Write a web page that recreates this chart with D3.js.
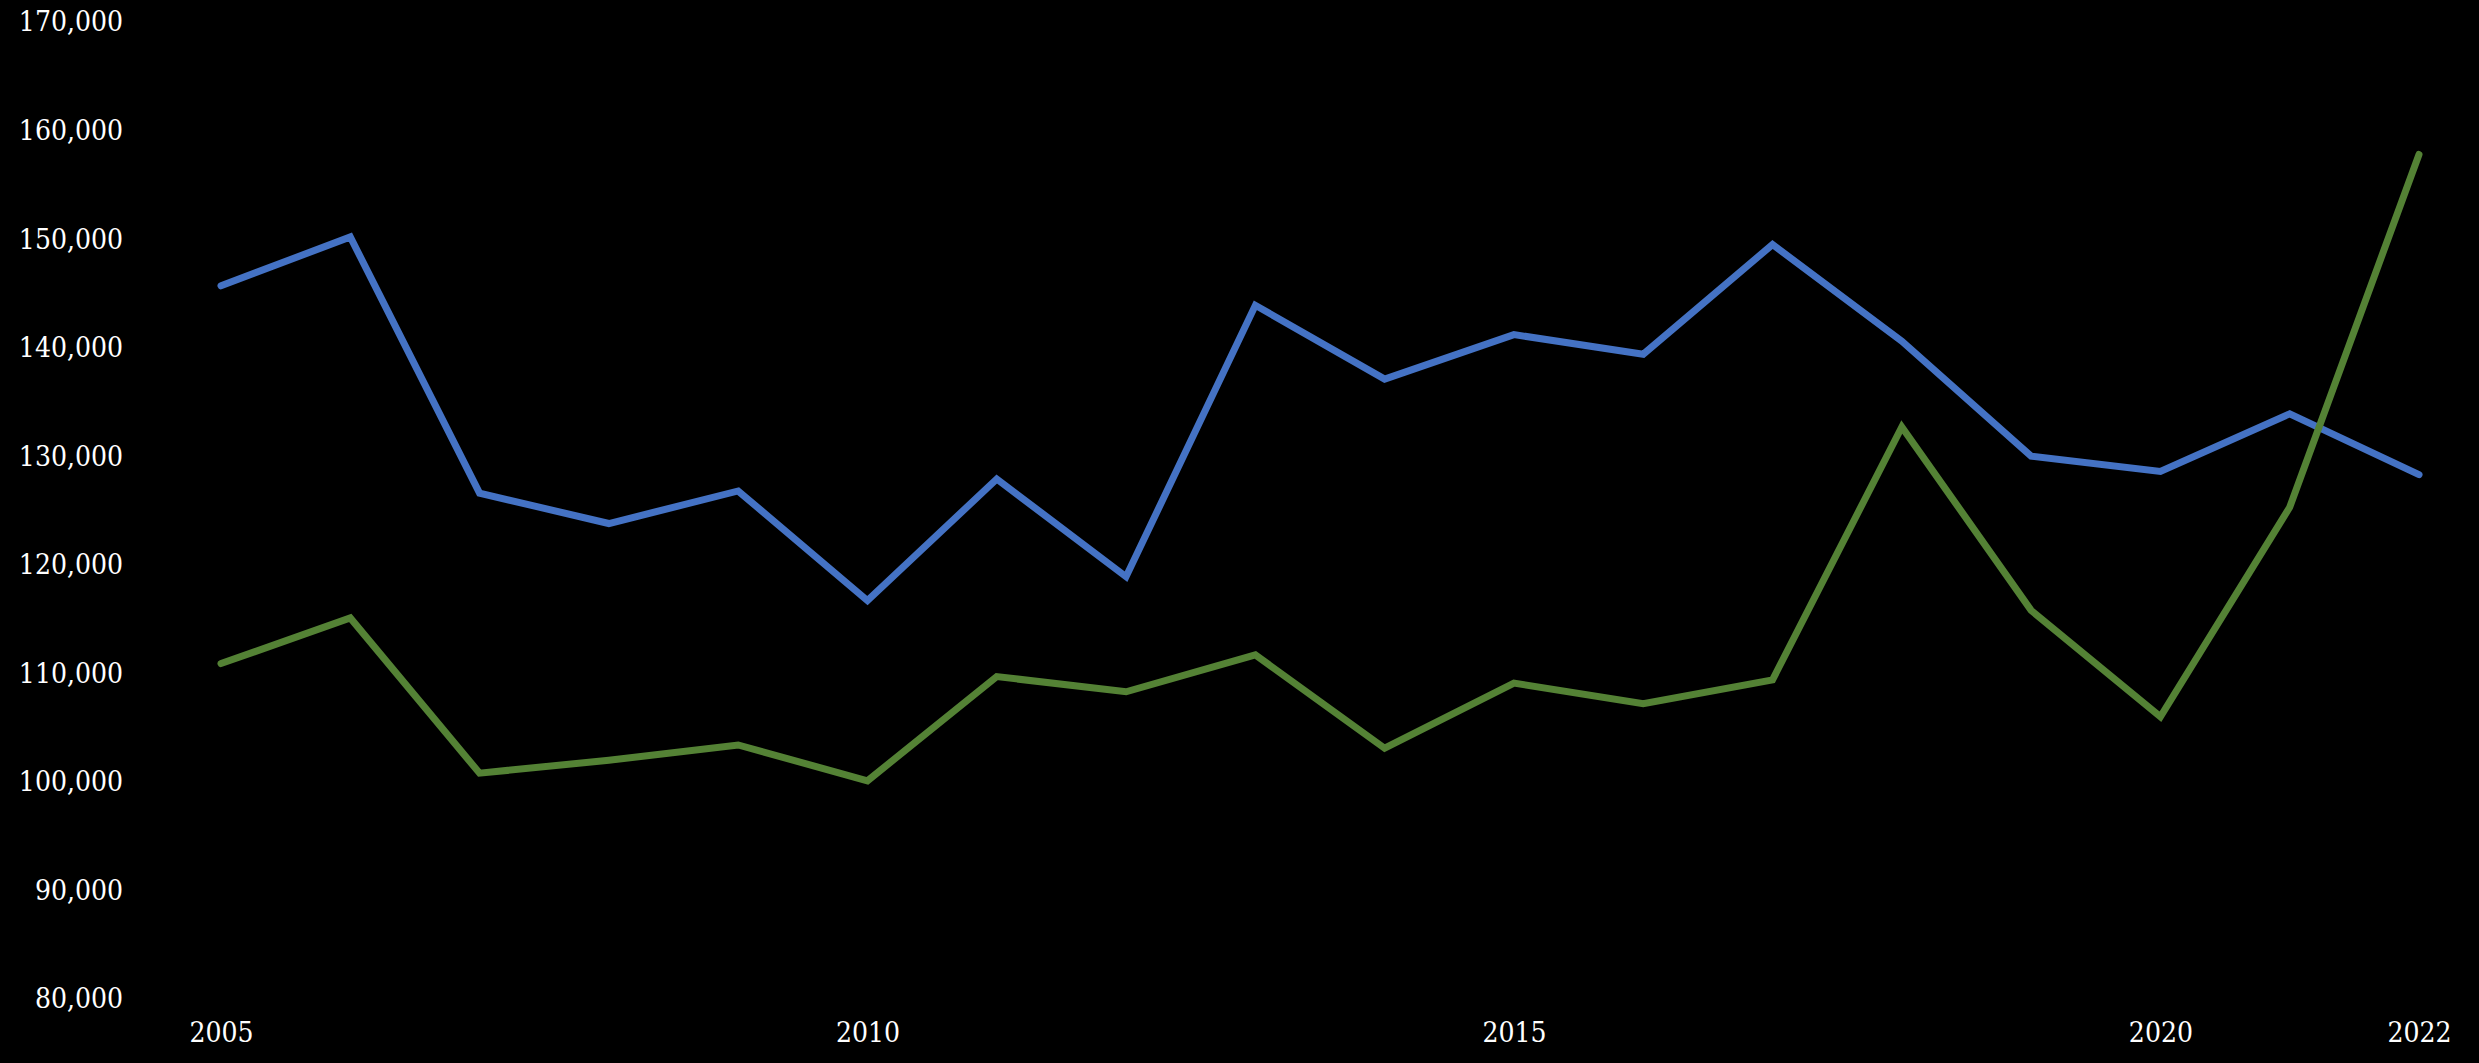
<!DOCTYPE html>
<meta charset="utf-8">
<html>
<head>
    <script src="https://d3js.org/d3.v7.min.js"></script>
    <style>
        html, body {
            margin: 0;
            padding: 0;
            background: black;
        }
        .tick text {
            font-family: "Roboto Slab", "DejaVu Serif", serif;
            font-stretch: condensed;
            font-size: 28px;
            fill: white;
        }
    </style>
</head>
<body>
    <div id="chart"></div>

    <script>
        // data
        var years = [2005, 2006, 2007, 2008, 2009, 2010, 2011, 2012, 2013,
                     2014, 2015, 2016, 2017, 2018, 2019, 2020, 2021, 2022];
        var blueValues = [145700, 150200, 126600, 123800, 126800, 116700, 127900, 118900, 143900,
                          137100, 141200, 139400, 149500, 140600, 130000, 128600, 133900, 128300];
        var greenValues = [110900, 115100, 100800, 102000, 103400, 100100, 109700, 108300, 111700,
                           103100, 109100, 107200, 109400, 132700, 115800, 106000, 125300, 157800];
        var yTicks = [80000, 90000, 100000, 110000, 120000, 130000, 140000, 150000, 160000, 170000];
        var xTicks = [2005, 2010, 2015, 2020, 2022];

        var width = 2479,
            height = 1063;

        var svg = d3.select("#chart").append("svg")
            .attr("width", width)
            .attr("height", height)
            .style("display", "block")
            .style("background", "black");

        var x = d3.scaleLinear()
            .domain([2005, 2022])
            .range([221, 2419]);

        var y = d3.scaleLinear()
            .domain([80000, 170000])
            .range([999, 22]);

        // y axis, labels only
        var yAxis = svg.append("g")
            .attr("transform", "translate(123,0)")
            .call(d3.axisLeft(y)
                .tickValues(yTicks)
                .tickSize(0)
                .tickPadding(0)
                .tickFormat(d3.format(",")));
        yAxis.select(".domain").remove();

        // x axis, labels only
        var xAxis = svg.append("g")
            .attr("transform", "translate(0,1022)")
            .call(d3.axisBottom(x)
                .tickValues(xTicks)
                .tickSize(0)
                .tickPadding(0)
                .tickFormat(d3.format("d")));
        xAxis.select(".domain").remove();

        var line = d3.line()
            .x(function(d, i) { return x(years[i]); })
            .y(function(d) { return y(d); });

        svg.append("path")
            .datum(blueValues)
            .attr("d", line)
            .attr("fill", "none")
            .attr("stroke", "#4472C4")
            .attr("stroke-width", 7)
            .attr("stroke-linecap", "round")
            .attr("stroke-linejoin", "miter");

        svg.append("path")
            .datum(greenValues)
            .attr("d", line)
            .attr("fill", "none")
            .attr("stroke", "#548235")
            .attr("stroke-width", 7)
            .attr("stroke-linecap", "round")
            .attr("stroke-linejoin", "miter");
    </script>
</body>
</html>
